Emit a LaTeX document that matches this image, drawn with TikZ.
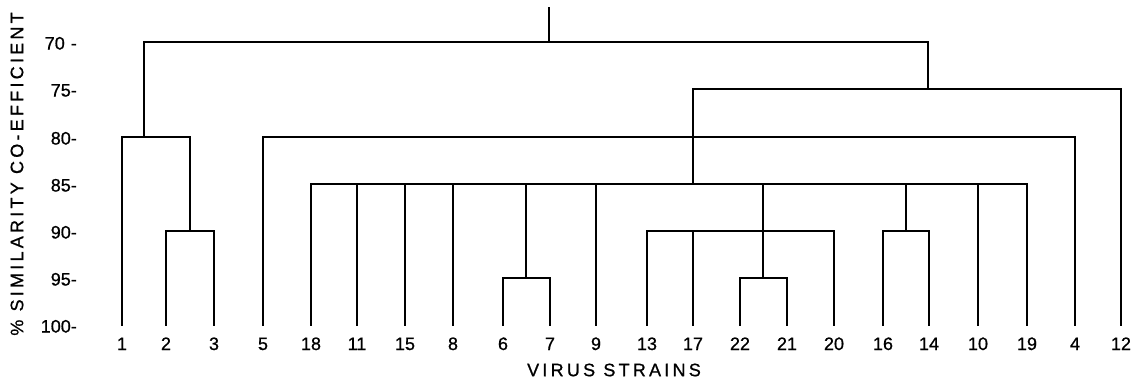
\documentclass[tikz,border=0pt]{standalone}
\usepackage{fontspec}
\setsansfont[FakeBold=0.8]{Liberation Sans}
\newfontfamily\spacedsans[LetterSpace=18,FakeBold=0.8]{Liberation Sans}
\begin{document}
\begin{tikzpicture}[x=1pt,y=-1pt,
  branch/.style={line width=2.4pt,line join=miter,line cap=rect},
  leaf/.style={font=\sffamily\fontsize{18}{18}\selectfont,anchor=base,inner sep=0pt},
  tick/.style={font=\sffamily\fontsize{18}{18}\selectfont,anchor=base east,inner sep=0pt},
  axislabel/.style={font=\spacedsans\fontsize{18}{18}\selectfont,inner sep=0pt}]
\useasboundingbox (0,0) rectangle (1146,383);
% similarity levels
\def\Lseventy{42}
\def\Lsf{89}
\def\Leighty{137}
\def\Lef{184}
\def\Lninety{231}
\def\Lnf{278}
\def\Lhundred{325}
% axis ticks
\foreach \v/\t in {42/{70\,\,-},89/{75-},137/{80-},184/{85-},231/{90-},278/{95-},325/{100-}}
  \node[tick] at (77,\v+7.5) {\t};
\node[axislabel,rotate=90] (ylab) at (17,174) {\% SIMILARITY CO-EFFICIENT};
\node[axislabel] (xlab) at (614,370) {VIRUS STRAINS};
% leaves: name / x position
\foreach \n/\x in {1/122,2/166,3/214,5/263,18/311,11/357,15/405,8/453,6/503,7/550,9/596,13/647,17/693,22/740,21/787,20/834,16/883,14/929,10/978,19/1027,4/1075,12/1121}{
  \coordinate (s\n) at (\x,\Lhundred);
  \node[leaf] (n\n) at (\x,350) {\n};
}
% junctions
\coordinate (j23) at (190,\Lninety);
\coordinate (j123) at (144,\Leighty);
\coordinate (j67) at (526,\Lnf);
\coordinate (j2221) at (763,\Lnf);
\coordinate (j90) at (763,\Lninety);
\coordinate (j1614) at (906,\Lninety);
\coordinate (j85) at (693,\Lef);
\coordinate (j80) at (693,\Leighty);
\coordinate (j75) at (928,\Lsf);
\coordinate (root) at (549,\Lseventy);
\coordinate (top) at (549,8);
% strains 1-3
\draw[branch] (s2) |- (j23) -| (s3);
\draw[branch] (s1) |- (j123) -| (j23);
% root
\draw[branch] (j123) |- (root) -| (j75);
\draw[branch] (root) -- (top);
% 75 and 80 clusters
\draw[branch] (j85) |- (j75) -| (s12);
\draw[branch] (s5) |- (j80) -| (s4);
% 85 cluster
\draw[branch] (s18) |- (j85) -| (s19);
\foreach \n in {11,15,8,9,10}
  \draw[branch] (s\n) -- (s\n |- j85);
\draw[branch] (s6) |- (j67) -| (s7);
\draw[branch] (j67) -- (j67 |- j85);
\draw[branch] (s22) |- (j2221) -| (s21);
\draw[branch] (j2221) -- (j2221 |- j85);
\draw[branch] (s13) |- (j90) -| (s20);
\draw[branch] (s17) -- (s17 |- j90);
\draw[branch] (s16) |- (j1614) -| (s14);
\draw[branch] (j1614) -- (j1614 |- j85);
\end{tikzpicture}
\end{document}
